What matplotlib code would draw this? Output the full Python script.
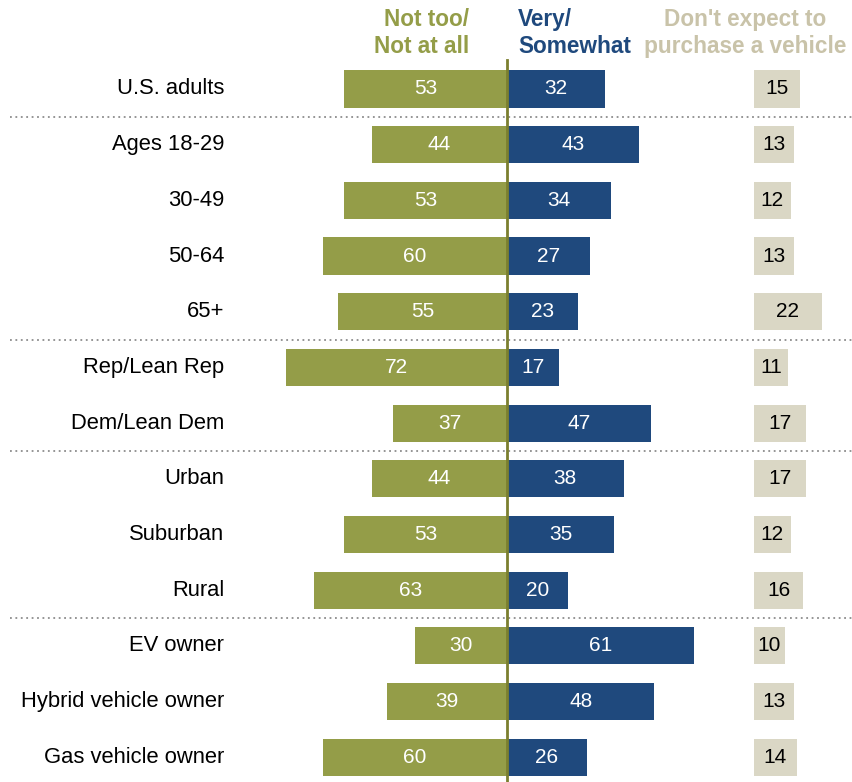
import matplotlib.pyplot as plt

# Data
groups = ["U.S. adults", "Ages 18-29", "30-49", "50-64", "65+",
          "Rep/Lean Rep", "Dem/Lean Dem", "Urban", "Suburban", "Rural",
          "EV owner", "Hybrid vehicle owner", "Gas vehicle owner"]
not_too = [53, 44, 53, 60, 55, 72, 37, 44, 53, 63, 30, 39, 60]
very = [32, 43, 34, 27, 23, 17, 47, 38, 35, 20, 61, 48, 26]
no_purchase = [15, 13, 12, 13, 22, 11, 17, 17, 12, 16, 10, 13, 14]
separators_after = [0, 4, 6, 9]

GREEN = "#949d48"
BLUE = "#1f497d"
BEIGE = "#dad7c5"
BEIGE_TXT = "#c9c3a9"
LINE = "#7b7f2f"

plt.rcParams['font.family'] = ['Liberation Sans Narrow', 'Liberation Sans', 'DejaVu Sans']

W, H = 853, 782
fig = plt.figure(figsize=(W / 100, H / 100), dpi=100)
ax = fig.add_axes([0, 0, 1, 1])

# pixel -> data mapping
center_px, unit_px = 507, 3.07
row0_px, row_px = 89, 55.67
ax.set_xlim((0 - center_px) / unit_px, (W - center_px) / unit_px)
ax.set_ylim((H - row0_px) / row_px, (0 - row0_px) / row_px)
ax.axis('off')

beige_start = (754 - center_px) / unit_px
label_x = (224 - center_px) / unit_px
bh = 0.665
fs = 15

for i, g in enumerate(groups):
    ax.barh(i, -not_too[i], height=bh, color=GREEN, zorder=2)
    ax.barh(i, very[i], height=bh, color=BLUE, zorder=2)
    ax.barh(i, no_purchase[i], left=beige_start, height=bh, color=BEIGE, zorder=2)
    ax.text(-not_too[i] / 2, i, str(not_too[i]), ha='center', va='center',
            color='white', fontsize=fs, family='Liberation Sans', zorder=3)
    ax.text(very[i] / 2, i, str(very[i]), ha='center', va='center',
            color='white', fontsize=fs, family='Liberation Sans', zorder=3)
    ax.text(beige_start + no_purchase[i] / 2, i, str(no_purchase[i]), ha='center',
            va='center', color='black', fontsize=fs, family='Liberation Sans', zorder=3)
    ax.text(label_x, i, g, ha='right', va='center', color='black', fontsize=15.8,
            family='Liberation Sans')

x_left = (10 - center_px) / unit_px
x_right = (W - center_px) / unit_px
for s in separators_after:
    ax.plot([x_left, x_right], [s + 0.5, s + 0.5], color='#8c8c8c', lw=1.3,
            linestyle=(0, (1, 2)), zorder=1)

ax.plot([0, 0], [(60 - row0_px) / row_px, (H - row0_px) / row_px],
        color=LINE, lw=2, zorder=4)

# headers
hy = 1 - 33 / H
hfs = 16.3
fig.text(469 / W, hy, "Not too/\nNot at all", ha='right', va='center',
         color=GREEN, fontsize=hfs, fontweight='bold', linespacing=1.22)
fig.text(518 / W, hy, "Very/\nSomewhat", ha='left', va='center',
         color=BLUE, fontsize=hfs, fontweight='bold', linespacing=1.22)
fig.text(745 / W, hy, "Don't expect to\npurchase a vehicle", ha='center', va='center',
         color=BEIGE_TXT, fontsize=hfs, fontweight='bold', linespacing=1.22)

fig.savefig("out.png", dpi=100)
